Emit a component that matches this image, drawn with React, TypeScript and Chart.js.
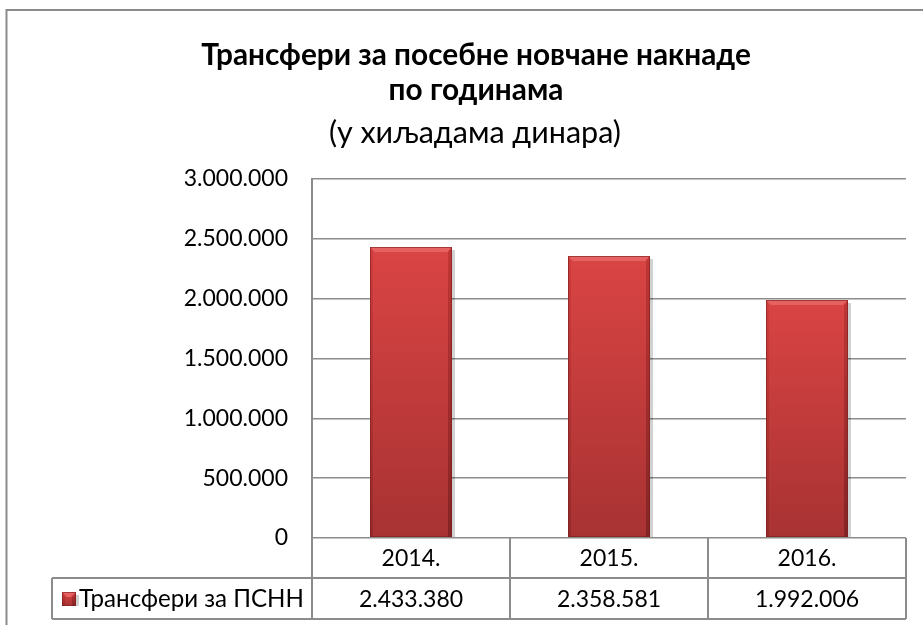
import React, { useEffect, useRef } from 'react';
import { Chart, registerables } from 'chart.js';

Chart.register(...registerables);

const titleLines = ['Трансфери за посебне новчане накнаде', 'по годинама'];
const subtitleText = '(у хиљадама динара)';
const categories = ['2014.', '2015.', '2016.'];
const seriesName = 'Трансфери за ПСНН';
const values = [2433380, 2358581, 1992006];
const yMin = 0;
const yMax = 3000000;
const yStep = 500000;

const FONT = 'Lato, "Open Sans", sans-serif';
const fmt = (v: number) => String(Math.round(v)).replace(/\B(?=(\d{3})+(?!\d))/g, '.');

function fitSize(ctx: CanvasRenderingContext2D, text: string, weight: string, target: number) {
  ctx.font = `${weight} 100px ${FONT}`;
  const w = ctx.measureText(text).width;
  return (100 * target) / w;
}

function paintBar(ctx: CanvasRenderingContext2D, l: number, t: number, r: number, b: number) {
  ctx.save();
  const bev = 5;
  ctx.fillStyle = 'rgba(0,0,0,0.18)';
  ctx.fillRect(r, t + 3, 3, b - t - 3);
  const g = ctx.createLinearGradient(0, t, 0, b);
  g.addColorStop(0, '#da4444');
  g.addColorStop(1, '#a83232');
  ctx.fillStyle = g;
  ctx.fillRect(l, t, r - l, b - t);
  ctx.fillStyle = '#e66262';
  ctx.beginPath();
  ctx.moveTo(l, t); ctx.lineTo(r, t); ctx.lineTo(r - bev, t + bev); ctx.lineTo(l + bev, t + bev); ctx.closePath();
  ctx.fill();
  const gl = ctx.createLinearGradient(0, t, 0, b);
  gl.addColorStop(0, '#cf3c3c');
  gl.addColorStop(1, '#962a2a');
  ctx.fillStyle = gl;
  ctx.beginPath();
  ctx.moveTo(l, t); ctx.lineTo(l + bev - 2, t + bev); ctx.lineTo(l + bev - 2, b); ctx.lineTo(l, b); ctx.closePath();
  ctx.fill();
  const gr = ctx.createLinearGradient(0, t, 0, b);
  gr.addColorStop(0, '#c03636');
  gr.addColorStop(1, '#842424');
  ctx.fillStyle = gr;
  ctx.beginPath();
  ctx.moveTo(r, t); ctx.lineTo(r - bev + 1, t + bev); ctx.lineTo(r - bev + 1, b); ctx.lineTo(r, b); ctx.closePath();
  ctx.fill();
  ctx.strokeStyle = 'rgba(120,30,30,0.6)';
  ctx.lineWidth = 1;
  ctx.strokeRect(l + 0.5, t + 0.5, r - l - 1, b - t - 1);
  ctx.restore();
}

const decorPlugin = {
  id: 'decor',
  afterDatasetsDraw(chart: any) {
    const ctx: CanvasRenderingContext2D = chart.ctx;
    const meta = chart.getDatasetMeta(0);
    meta.data.forEach((bar: any) => {
      const p = bar.getProps(['x', 'y', 'base', 'width'], true);
      const l = Math.round(p.x - p.width / 2);
      const r = Math.round(p.x + p.width / 2);
      paintBar(ctx, l, Math.round(p.y), r, Math.round(p.base));
    });
  },
  afterDraw(chart: any) {
    const ctx: CanvasRenderingContext2D = chart.ctx;
    const area = chart.chartArea;
    const xs = chart.scales.x;
    ctx.save();
    ctx.strokeStyle = '#8c8c8c';
    ctx.lineWidth = 2;
    ctx.beginPath();
    ctx.moveTo(6.5, 1000); ctx.lineTo(6.5, 10); ctx.lineTo(1000, 10);
    ctx.stroke();

    ctx.fillStyle = '#000';
    ctx.textAlign = 'center';
    ctx.textBaseline = 'middle';
    const cx = 476;
    const ts = fitSize(ctx, titleLines[0], 'bold', 550);
    ctx.font = `bold ${ts}px ${FONT}`;
    ctx.fillText(titleLines[0], cx, 55);
    ctx.fillText(titleLines[1], cx, 90);
    const ss = fitSize(ctx, subtitleText, 'normal', 292);
    ctx.font = `normal ${ss}px ${FONT}`;
    ctx.fillText(subtitleText, 475, 133);

    const n = categories.length;
    const step = xs.getPixelForValue(1) - xs.getPixelForValue(0);
    const bounds: number[] = [];
    for (let i = 0; i < n; i++) bounds.push(xs.getPixelForValue(i) - step / 2);
    bounds.push(xs.getPixelForValue(n - 1) + step / 2);
    const r0 = area.bottom;
    const r1 = r0 + 40;
    const r2 = r1 + 41;
    const legL = 52;
    ctx.strokeStyle = '#8c8c8c';
    ctx.lineWidth = 2;
    ctx.beginPath();
    ctx.moveTo(legL, r1); ctx.lineTo(bounds[n], r1);
    ctx.moveTo(legL, r2); ctx.lineTo(bounds[n], r2);
    ctx.moveTo(legL, r1); ctx.lineTo(legL, r2);
    bounds.forEach((b) => { ctx.moveTo(b, r0); ctx.lineTo(b, r2); });
    ctx.stroke();

    ctx.fillStyle = '#000';
    ctx.font = `normal 23px ${FONT}`;
    ctx.textAlign = 'center';
    categories.forEach((c, i) => {
      const x = xs.getPixelForValue(i);
      ctx.fillText(c, x, (r0 + r1) / 2 + 1);
      ctx.fillText(fmt(values[i]), x, (r1 + r2) / 2 + 1);
    });

    const kx = 62, ky = 592, kw = 14, kh = 14;
    paintBar(ctx, kx, ky, kx + kw, ky + kh);
    ctx.fillStyle = '#000';
    ctx.textAlign = 'left';
    const ls = fitSize(ctx, seriesName, 'normal', 225);
    ctx.font = `normal ${ls}px ${FONT}`;
    ctx.fillText(seriesName, 79, (r1 + r2) / 2 + 1);
    ctx.restore();
  },
};

export default function App() {
  const ref = useRef<HTMLCanvasElement | null>(null);
  useEffect(() => {
    if (!ref.current) return;
    const chart = new Chart(ref.current, {
      type: 'bar',
      data: {
        labels: categories,
        datasets: [
          {
            label: seriesName,
            data: values,
            backgroundColor: 'rgba(0,0,0,0)',
            borderWidth: 0,
            barPercentage: 0.414,
            categoryPercentage: 1,
          },
        ],
      },
      options: {
        responsive: false,
        animation: false,
        devicePixelRatio: 1,
        layout: { padding: { left: 0, top: 179, right: 17, bottom: 87 } },
        plugins: { legend: { display: false }, title: { display: false }, tooltip: { enabled: false } },
        scales: {
          x: { display: false, offset: true },
          y: {
            min: yMin,
            max: yMax,
            afterFit: (s: any) => { s.width = 312; },
            ticks: {
              stepSize: yStep,
              callback: (v: any) => fmt(Number(v)),
              color: '#000',
              font: { family: FONT, size: 23 },
              padding: 24,
            },
            grid: { color: '#8c8c8c', lineWidth: 1.5, drawTicks: false },
            border: { display: true, color: '#8c8c8c', width: 2 },
          },
        },
      },
      plugins: [decorPlugin],
    });
    return () => chart.destroy();
  }, []);
  return (
    <div style={{ position: 'fixed', left: 0, top: 0, width: 923, height: 625, background: '#fff' }}>
      <canvas ref={ref} width={923} height={625} style={{ display: 'block' }} />
    </div>
  );
}
